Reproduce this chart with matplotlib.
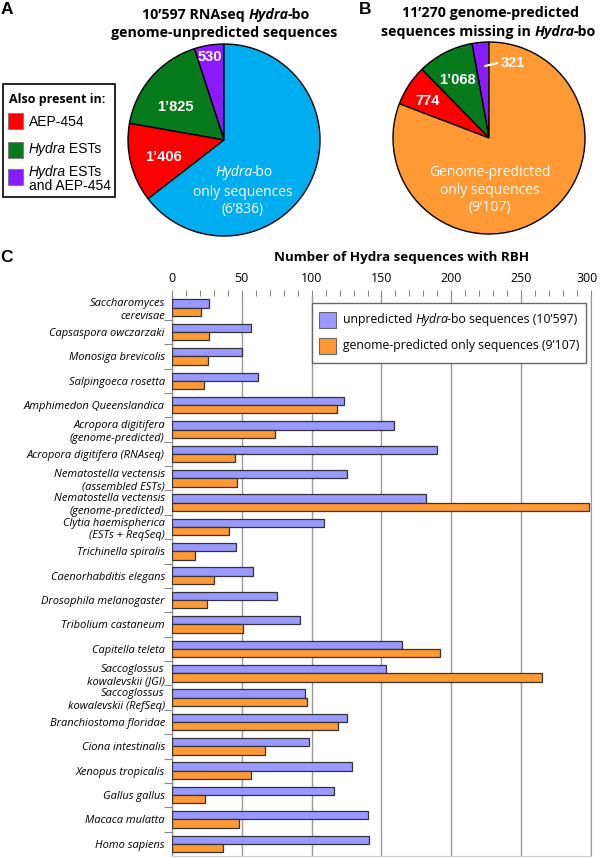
import numpy as np
import matplotlib
matplotlib.use('Agg')
import matplotlib.pyplot as plt
from matplotlib.patches import Rectangle
from matplotlib.transforms import ScaledTranslation

# figure size in pixels
W, H = 600, 858

# panel C data
species = ['Saccharomyces\ncerevisae', 'Capsaspora owczarzaki', 'Monosiga brevicolis',
           'Salpingoeca rosetta', 'Amphimedon Queenslandica',
           'Acropora digitifera\n(genome-predicted)', 'Acropora digitifera (RNAseq)',
           'Nematostella vectensis\n(assembled ESTs)', 'Nematostella vectensis\n(genome-predicted)',
           'Clytia haemispherica\n(ESTs + ReqSeq)', 'Trichinella spiralis',
           'Caenorhabditis elegans', 'Drosophila melanogaster', 'Tribolium castaneum',
           'Capitella teleta', 'Saccoglossus\nkowalevskii (JGI)',
           'Saccoglossus\nkowalevskii (RefSeq)', 'Branchiostoma floridae',
           'Ciona intestinalis', 'Xenopus tropicalis', 'Gallus gallus',
           'Macaca mulatta', 'Homo sapiens']
unpredicted_rbh = [27, 57, 50, 62, 123, 159, 190, 125, 182, 109, 46, 58, 75, 92,
                   165, 153, 95, 125, 98, 129, 116, 140, 141]
predicted_rbh = [21, 27, 26, 23, 118, 74, 45, 47, 298, 41, 17, 30, 25, 51,
                 192, 265, 97, 119, 67, 57, 24, 48, 37]
x_ticks = [0, 50, 100, 150, 200, 250, 300]

# panel A / B data (order: both, ESTs, AEP-454, only)
pie_a_values = [530, 1825, 1406, 6836]
pie_b_values = [321, 1068, 774, 9107]

c_purple = '#8c1aff'
c_green = '#077a1c'
c_red = '#ff0000'
c_cyan = '#00aeef'
c_orange = '#ff9933'
c_lav = '#9999ff'

FONT = 'Open Sans'
ARIAL = 'Liberation Sans'
plt.rcParams['font.family'] = [FONT, 'DejaVu Sans']

fig = plt.figure(figsize=(W / 100, H / 100), dpi=100)
renderer = fig.canvas.get_renderer()


def fx(px):
    return px / W


def fy(py):
    return 1 - py / H


def adv(s, **kw):
    """width of a string in pixels, trailing spaces included"""
    t1 = fig.text(0, 0, s + 'l', **kw)
    t2 = fig.text(0, 0, 'l', **kw)
    w = t1.get_window_extent(renderer).width - t2.get_window_extent(renderer).width
    t1.remove()
    t2.remove()
    return w


def rich_text(x, y, parts, ha='center', **kw):
    """text made of (string, style) runs, placed in pixel coordinates"""
    widths = [adv(s, style=st, **kw) - (1.2 if st == 'italic' else 0) for s, st in parts]
    start = x - sum(widths) / 2 if ha == 'center' else x
    for (s, st), w in zip(parts, widths):
        fig.text(fx(start), fy(y), s, style=st, ha='left', va='center', **kw)
        start += w


# panel letters
for letter, (lx, ly) in {'A': (1, 9), 'B': (359, 9), 'C': (0, 257)}.items():
    fig.text(fx(lx), fy(ly), letter, family=ARIAL, weight='bold', fontsize=12.5,
             ha='left', va='center')

# ---- pies ----
def draw_pie(cx, cy, values, colors):
    r = 96
    ax = fig.add_axes([fx(cx - r * 1.05), fy(cy + r * 1.05), 2 * r * 1.05 / W, 2 * r * 1.05 / H])
    ax.pie(values, colors=colors, startangle=90, counterclock=True,
           wedgeprops=dict(edgecolor='black', linewidth=1.0))
    ax.set_xlim(-1.05, 1.05)
    ax.set_ylim(-1.05, 1.05)
    ax.set_aspect('equal')
    ax.axis('off')
    return ax


ax_a = draw_pie(224, 140, pie_a_values, [c_purple, c_green, c_red, c_cyan])
num_kw = dict(family=ARIAL, weight='bold', fontsize=10.5, color='white', ha='center', va='center')
ax_a.text(-0.146, 0.865, '530', **num_kw)
ax_a.text(-0.51, 0.34, '1’825', **num_kw)
ax_a.text(-0.625, -0.18, '1’406', **num_kw)
rich_text(244, 173, [('Hydra', 'italic'), ('-bo', 'normal')], color='white', fontsize=10)
rich_text(243, 192, [('only sequences', 'normal')], color='white', fontsize=10)
rich_text(243, 209, [('(6’836)', 'normal')], color='white', fontsize=10)

ax_b = draw_pie(489, 138, pie_b_values, [c_purple, c_green, c_red, c_orange])
ax_b.text(-0.333, 0.60, '1’068', **num_kw)
ax_b.text(-0.635, 0.385, '774', **num_kw)
ax_b.text(0.12, 0.78, '321', **{**num_kw, 'ha': 'left'})
ax_b.plot([-0.04, 0.085], [0.75, 0.78], color='white', lw=1.6, solid_capstyle='round')
rich_text(490, 172, [('Genome-predicted', 'normal')], color='white', fontsize=10)
rich_text(490, 190, [('only sequences', 'normal')], color='white', fontsize=10)
rich_text(490, 207, [('(9’107)', 'normal')], color='white', fontsize=10)

# pie titles
rich_text(226, 15, [('10’597 RNAseq ', 'normal'), ('Hydra', 'italic'), ('-bo', 'normal')],
          weight='bold', fontsize=10.3)
rich_text(224, 33, [('genome-unpredicted sequences', 'normal')], weight='bold', fontsize=10.3)
rich_text(490, 13, [('11’270 genome-predicted', 'normal')], weight='bold', fontsize=10.3)
rich_text(488, 32, [('sequences missing in ', 'normal'), ('Hydra', 'italic'), ('-bo', 'normal')],
          weight='bold', fontsize=10.3)

# legend of panel A
fig.patches.append(Rectangle((fx(3), fy(197)), 112 / W, 113 / H, transform=fig.transFigure,
                             facecolor='white', edgecolor='black', lw=1.2))
fig.text(fx(9), fy(100), 'Also present in:', weight='bold', fontsize=9, ha='left', va='center')
for col, yy in [(c_red, 121), (c_green, 150), (c_purple, 177)]:
    fig.patches.append(Rectangle((fx(8), fy(yy + 7.5)), 15 / W, 15 / H, transform=fig.transFigure,
                                 facecolor=col, edgecolor='#777777', lw=0.6))
fig.text(fx(29), fy(122), 'AEP-454', family=ARIAL, fontsize=10, ha='left', va='center')
rich_text(29, 149, [('Hydra', 'italic'), (' ESTs', 'normal')], ha='left', family=ARIAL, fontsize=10)
rich_text(29, 172, [('Hydra', 'italic'), (' ESTs', 'normal')], ha='left', family=ARIAL, fontsize=10)
fig.text(fx(29), fy(186), 'and AEP-454', family=ARIAL, fontsize=10, ha='left', va='center')

# ---- panel C: bars ----
left, right, top, bottom = 171.7, 591.3, 295.5, 856
ax = fig.add_axes([fx(left), fy(bottom), (right - left) / W, (bottom - top) / H])
y = np.arange(len(species))
h = 0.34
ax.barh(y - h / 2, unpredicted_rbh, height=h, color=c_lav, edgecolor='#333333', lw=0.9, zorder=3)
ax.barh(y + h / 2, predicted_rbh, height=h, color=c_orange, edgecolor='#333333', lw=0.9, zorder=3)
ax.set_xlim(0, 300)
ax.set_ylim(len(species) - 0.5, -0.5)
ax.xaxis.tick_top()
ax.set_xticks(x_ticks)
ax.set_xticks(np.arange(0, 301, 10), minor=True)
ax.tick_params(axis='x', which='both', direction='out', length=4.3, color='#888888',
               labelsize=9, pad=3.5, width=0.8)
# keep the last label inside the figure
last = ax.get_xticklabels()[-1]
last.set_transform(last.get_transform() + ScaledTranslation(-4 / 100, 0, fig.dpi_scale_trans))
ax.set_yticks(y)
ax.set_yticklabels(species, fontsize=8, style='italic', linespacing=1.2)
ax.set_yticks(np.arange(0.5, len(species) - 0.5, 1), minor=True)
ax.tick_params(axis='y', which='major', length=0, pad=5)
ax.tick_params(axis='y', which='minor', length=5.5, color='#888888', width=0.8)
ax.grid(axis='x', color='#999999', lw=1, zorder=0)
ax.set_axisbelow(True)
ax.spines['top'].set_visible(False)
ax.spines['left'].set_color('#888888')
ax.spines['right'].set_color('#999999')
ax.spines['bottom'].set_color('#cccccc')

rich_text(402, 258, [('Number of Hydra sequences with RBH', 'normal')], weight='bold', fontsize=9.6)

# legend of panel C
fig.patches.append(Rectangle((fx(311.7), fy(363)), 274.3 / W, 60 / H, transform=fig.transFigure,
                             facecolor='white', edgecolor='#666666', lw=1.0, zorder=5))
for col, yy in [(c_lav, 320), (c_orange, 346)]:
    fig.patches.append(Rectangle((fx(319), fy(yy + 8)), 17 / W, 16 / H, transform=fig.transFigure,
                                 facecolor=col, edgecolor='#666666', lw=0.8, zorder=6))
rich_text(343, 320, [('unpredicted ', 'normal'), ('Hydra', 'italic'), ('-bo sequences (10’597)', 'normal')],
          ha='left', fontsize=8.8, zorder=7)
rich_text(343, 346, [('genome-predicted only sequences (9’107)', 'normal')], ha='left', fontsize=8.8, zorder=7)

fig.savefig('out.png', dpi=100)
